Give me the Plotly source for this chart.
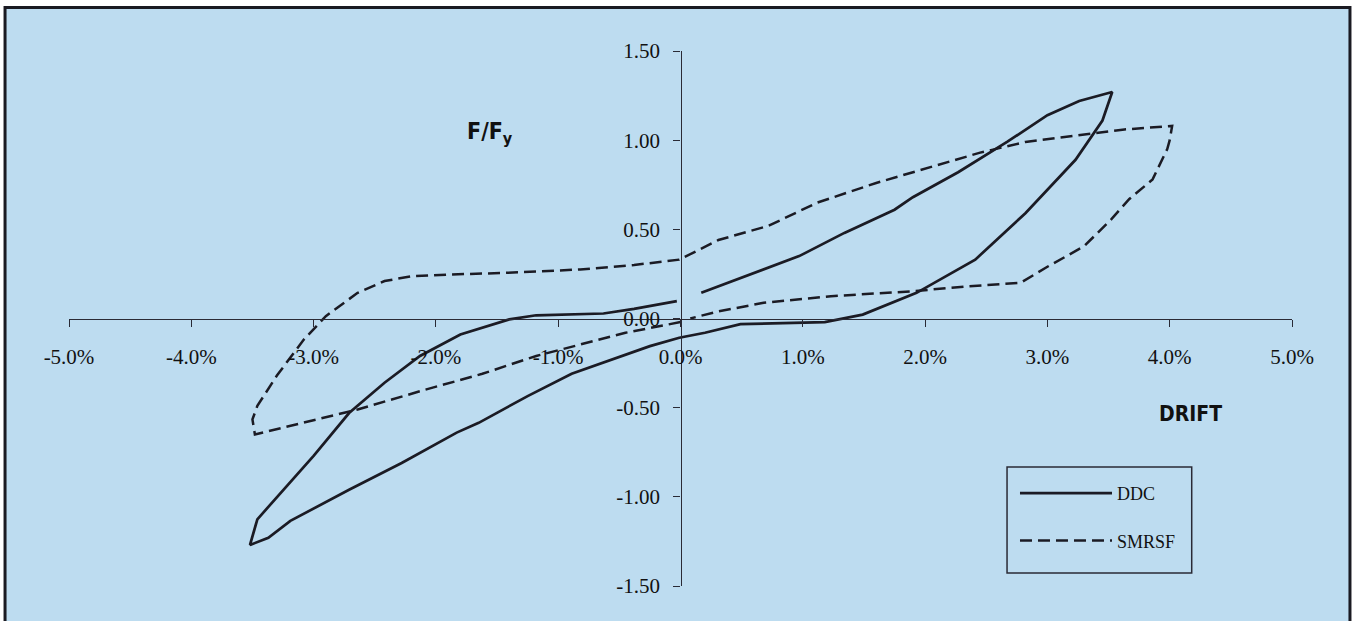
import plotly.graph_objects as go

# ---- data (drift in %, force ratio F/Fy) ----
ddc_drift = [0.17, 0.49, 0.97, 1.34, 1.75, 1.90, 2.27, 2.67, 3.00, 3.26, 3.53,
             3.45, 3.23, 2.82, 2.41, 1.93, 1.49, 1.18, 0.49, 0.20, -0.01, -0.25,
             -0.52, -0.89, -1.25, -1.65, -1.83, -2.28, -2.71, -3.19, -3.37, -3.52,
             -3.46, -3.30, -3.00, -2.71, -2.42, -2.13, -1.80, -1.40, -1.18, -0.63,
             -0.38, -0.03]
ddc_force = [0.144, 0.228, 0.35, 0.48, 0.61, 0.68, 0.82, 0.99, 1.14, 1.22, 1.27,
             1.11, 0.89, 0.59, 0.33, 0.144, 0.022, -0.02, -0.032, -0.08, -0.108, -0.155,
             -0.22, -0.31, -0.435, -0.585, -0.64, -0.81, -0.96, -1.135, -1.23, -1.27,
             -1.126, -1.00, -0.77, -0.53, -0.36, -0.21, -0.09, -0.005, 0.018, 0.028,
             0.054, 0.097]

smrsf_drift = [0.00, -0.16, -0.45, -0.82, -1.18, -1.62, -2.09, -2.64, -3.08, -3.48,
               -3.50, -3.46, -3.30, -3.08, -2.90, -2.64, -2.42, -2.20, -1.91, -1.43,
               -0.82, -0.38, -0.01, 0.31, 0.72, 1.12, 1.60, 2.04, 2.45, 2.82, 3.26,
               3.63, 4.02, 4.00, 3.98, 3.86, 3.67, 3.52, 3.30, 3.00, 2.78, 2.34, 1.90,
               1.23, 0.68, 0.31, 0.08]
smrsf_force = [-0.02, -0.04, -0.08, -0.146, -0.21, -0.31, -0.40, -0.51, -0.585, -0.65,
               -0.566, -0.49, -0.32, -0.118, 0.013, 0.144, 0.21, 0.237, 0.246, 0.256,
               0.275, 0.30, 0.33, 0.44, 0.52, 0.65, 0.76, 0.85, 0.93, 0.99, 1.03,
               1.06, 1.08, 1.00, 0.95, 0.78, 0.67, 0.555, 0.405, 0.29, 0.20, 0.18, 0.153,
               0.125, 0.088, 0.04, 0.0]

x_tick_vals = [-5, -4, -3, -2, -1, 0, 1, 2, 3, 4, 5]
x_tick_text = ["-5.0%", "-4.0%", "-3.0%", "-2.0%", "-1.0%", "0.0%",
               "1.0%", "2.0%", "3.0%", "4.0%", "5.0%"]
y_tick_vals = [-1.5, -1.0, -0.5, 0.0, 0.5, 1.0, 1.5]
y_tick_text = ["-1.50", "-1.00", "-0.50", "0.00", "0.50", "1.00", "1.50"]

INK = "#1b1b24"
AX = "#2a2a35"
BG = "#bddcf0"
TXT = "#111111"
SERIF = "Liberation Serif, Times New Roman, serif"
COND = "DejaVu Sans Condensed, Liberation Sans Narrow, DejaVu Sans, sans-serif"

fig = go.Figure()
fig.add_trace(go.Scatter(x=ddc_drift, y=ddc_force, mode="lines", name="DDC",
                         legendgroup="a", hoverinfo="skip",
                         line=dict(color=INK, width=2.7)))
fig.add_trace(go.Scatter(x=smrsf_drift, y=smrsf_force, mode="lines", name="SMRSF",
                         legendgroup="b", hoverinfo="skip",
                         line=dict(color=INK, width=2.5, dash="12px,6px")))

axis_common = dict(showgrid=False, zeroline=False, showline=True, linecolor=AX,
                   linewidth=1.4, ticks="outside", ticklen=7, tickwidth=1.4,
                   tickcolor=AX, tickfont=dict(family=SERIF, size=21, color=TXT))

fig.update_layout(
    width=1355, height=621,
    margin=dict(l=69, r=63, t=51, b=35),
    paper_bgcolor="white", plot_bgcolor="rgba(0,0,0,0)",
    xaxis=dict(range=[-5, 5], anchor="free", position=0.5,
               tickvals=x_tick_vals, ticktext=x_tick_text,
               ticklabelstandoff=12, **axis_common),
    yaxis=dict(range=[-1.5, 1.5], anchor="free", position=0.5,
               tickvals=y_tick_vals, ticktext=y_tick_text,
               ticklabelstandoff=9, **axis_common),
    xaxis2=dict(range=[-5, 5], overlaying="x", anchor="free", position=0.5,
                tickvals=x_tick_vals, showticklabels=False, showgrid=False,
                zeroline=False, showline=False, ticks="inside", ticklen=7,
                tickwidth=1.4, tickcolor=AX),
    yaxis2=dict(range=[-1.5, 1.5], overlaying="y", anchor="free", position=0.5,
                tickvals=y_tick_vals, showticklabels=False, showgrid=False,
                zeroline=False, showline=False, ticks="inside", ticklen=7,
                tickwidth=1.4, tickcolor=AX),
    showlegend=True,
    hovermode=False,
    legend=dict(x=0.7735, y=0.2075, xanchor="left", yanchor="top",
                bgcolor="rgba(0,0,0,0)", borderwidth=0,
                font=dict(family=SERIF, size=18, color=TXT),
                tracegroupgap=21, itemwidth=92),
    shapes=[
        dict(type="rect", xref="paper", yref="paper", layer="below",
             x0=-0.0523, x1=1.0474, y0=-0.09, y1=1.0813,
             fillcolor=BG, line=dict(color="#1a1a22", width=3)),
        # legend frame
        dict(type="rect", xref="paper", yref="paper", layer="above",
             x0=0.767, x1=0.918, y0=0.0243, y1=0.2224,
             line=dict(color=AX, width=1.5)),
    ],
    annotations=[
        dict(text="<b>F/F<sub>y</sub></b>", xref="paper", yref="paper",
             x=0.344, y=0.847, xanchor="center", yanchor="middle", showarrow=False,
             font=dict(family=COND, size=23, color=TXT)),
        dict(text="<b>DRIFT</b>", xref="paper", yref="paper",
             x=0.917, y=0.3215, xanchor="center", yanchor="middle", showarrow=False,
             font=dict(family=COND, size=21, color=TXT)),
    ],
)

fig.write_html("out.html", config={"displayModeBar": False},
               post_script="document.body.style.margin='0px';")
